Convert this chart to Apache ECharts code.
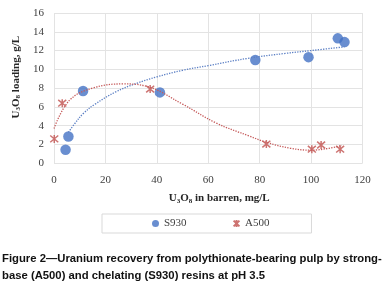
<!DOCTYPE html>
<html>
<head>
<meta charset="utf-8">
<script src="https://cdn.jsdelivr.net/npm/echarts@6/dist/echarts.min.js"></script>
<style>
html, body { margin: 0; padding: 0; background: #fff; }
#chart { width: 385px; height: 289px; }
</style>
</head>
<body>
<div id="chart"></div>
<script>
// measured points
var s930X = [4.5, 5.6, 11.3, 41.2, 78.3, 99, 110.4, 113];
var s930Y = [1.45, 2.85, 7.7, 7.55, 11.0, 11.3, 13.3, 12.9];
var a500X = [0.1, 3.2, 37.4, 82.6, 100.3, 103.9, 111.3];
var a500Y = [2.6, 6.4, 7.9, 2.05, 1.5, 1.95, 1.5];
// dotted trend curves
var s930TrendX = [5.6, 8, 11.4, 16, 24, 32, 40, 50, 60, 76, 90, 100, 113];
var s930TrendY = [3.3, 4.2, 5.3, 6.3, 7.6, 8.5, 9.2, 9.9, 10.4, 11.2, 11.7, 12.0, 12.4];
var a500TrendX = [0, 6, 15, 27, 36, 50, 63, 76, 83, 92, 100, 107, 112];
var a500TrendY = [3.7, 6.7, 8.0, 8.45, 8.2, 6.3, 4.3, 2.9, 2.2, 1.6, 1.4, 1.6, 1.9];
// axis ticks
var xTicks = [0, 20, 40, 60, 80, 100, 120];
var yTicks = [0, 2, 4, 6, 8, 10, 12, 14, 16];
var legendNames = ['S930', 'A500'];

var blue = '#4472c4';
var red = '#c0504d';
var serif = '"Liberation Serif", "DejaVu Serif", serif';
var starPath = 'path://M0,0L10,10M10,0L0,10M5,-1L5,11';

function zip (xs, ys) {
  return xs.map(function (x, i) { return [x, ys[i]] })
}

var chart = echarts.init(document.getElementById('chart'))
var option = {
  animation: false,
  title: {
    text: 'Figure 2\u2014Uranium recovery from polythionate-bearing pulp by strong-\nbase (A500) and chelating (S930) resins at pH 3.5',
    left: 2,
    top: 250,
    padding: 0,
    textStyle: {
      fontFamily: '"Liberation Sans", Arial, sans-serif',
      fontWeight: 'bold',
      fontSize: 11.3,
      lineHeight: 17,
      color: '#111'
    }
  },
  grid: {
    left: 54,
    right: 22.5,
    top: 13,
    bottom: 125.7
  },
  legend: {
    data: legendNames,
    left: 102,
    top: 214,
    padding: [4, 42, 4, 50],
    itemGap: 46,
    itemWidth: 7,
    itemHeight: 7,
    borderColor: '#d9d9d9',
    borderWidth: 1,
    textStyle: {
      fontFamily: serif,
      fontSize: 11,
      color: '#404040'
    }
  },
  xAxis: {
    type: 'value',
    min: xTicks[0],
    max: xTicks[xTicks.length - 1],
    interval: xTicks[1] - xTicks[0],
    name: 'U{sub|3}O{sub|8} in barren, mg/L',
    nameLocation: 'middle',
    nameGap: 29,
    nameTextStyle: {
      fontFamily: serif,
      fontWeight: 'bold',
      fontSize: 11,
      color: '#262626',
      padding: [0, 0, 0, 22],
      rich: {
        sub: { fontFamily: serif, fontWeight: 'bold', fontSize: 7, color: '#262626', padding: [5, 0, 0, 0] }
      }
    },
    axisLine: { show: false },
    axisTick: { show: false },
    axisLabel: {
      margin: 11,
      fontFamily: serif,
      fontSize: 11,
      color: '#404040'
    },
    splitLine: { lineStyle: { color: '#e3e3e3', width: 1 } }
  },
  yAxis: {
    type: 'value',
    min: yTicks[0],
    max: yTicks[yTicks.length - 1],
    interval: yTicks[1] - yTicks[0],
    name: 'U{sub|3}O{sub|8} loading, g/L',
    nameLocation: 'middle',
    nameGap: 22,
    nameTextStyle: {
      fontFamily: serif,
      fontWeight: 'bold',
      fontSize: 11,
      color: '#262626',
      padding: [0, 0, 0, 22],
      rich: {
        sub: { fontFamily: serif, fontWeight: 'bold', fontSize: 7, color: '#262626', padding: [5, 0, 0, 0] }
      }
    },
    axisLine: { show: false },
    axisTick: { show: false },
    axisLabel: {
      margin: 10,
      fontFamily: serif,
      fontSize: 11,
      color: '#404040'
    },
    splitLine: { lineStyle: { color: '#e3e3e3', width: 1 } }
  },
  series: [
    {
      name: 'S930 trend',
      type: 'line',
      data: zip(s930TrendX, s930TrendY),
      smooth: 0.4,
      showSymbol: false,
      silent: true,
      lineStyle: { color: '#5b7fc4', width: 1.3, type: 'dotted' }
    },
    {
      name: 'A500 trend',
      type: 'line',
      data: zip(a500TrendX, a500TrendY),
      smooth: 0.4,
      showSymbol: false,
      silent: true,
      lineStyle: { color: '#c55a5a', width: 1.3, type: 'dotted' }
    },
    {
      name: 'S930',
      type: 'scatter',
      data: zip(s930X, s930Y),
      symbol: 'circle',
      symbolSize: 10.5,
      itemStyle: { color: blue }
    },
    {
      name: 'A500',
      type: 'scatter',
      data: zip(a500X, a500Y),
      symbol: starPath,
      symbolSize: 8,
      itemStyle: { color: 'rgba(0,0,0,0)', borderColor: red, borderWidth: 1.5 }
    }
  ]
}
option && chart.setOption(option)
</script>
</body>
</html>
